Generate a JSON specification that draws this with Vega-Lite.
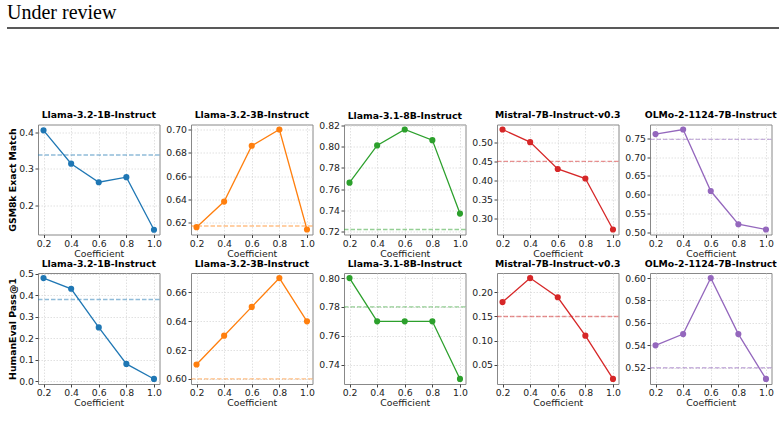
{
  "$schema": "https://vega.github.io/schema/vega-lite/v6.json",
  "padding": {"left": 6, "top": 3, "right": 5, "bottom": 0},
  "datasets": {
    "scores": [
      {"metric": "GSM8k", "model": "Llama-3.2-1B-Instruct", "coef": 0.2, "value": 0.406},
      {"metric": "GSM8k", "model": "Llama-3.2-1B-Instruct", "coef": 0.4, "value": 0.314},
      {"metric": "GSM8k", "model": "Llama-3.2-1B-Instruct", "coef": 0.6, "value": 0.263},
      {"metric": "GSM8k", "model": "Llama-3.2-1B-Instruct", "coef": 0.8, "value": 0.277},
      {"metric": "GSM8k", "model": "Llama-3.2-1B-Instruct", "coef": 1.0, "value": 0.132},
      {"metric": "GSM8k", "model": "Llama-3.2-3B-Instruct", "coef": 0.2, "value": 0.616},
      {"metric": "GSM8k", "model": "Llama-3.2-3B-Instruct", "coef": 0.4, "value": 0.638},
      {"metric": "GSM8k", "model": "Llama-3.2-3B-Instruct", "coef": 0.6, "value": 0.686},
      {"metric": "GSM8k", "model": "Llama-3.2-3B-Instruct", "coef": 0.8, "value": 0.700},
      {"metric": "GSM8k", "model": "Llama-3.2-3B-Instruct", "coef": 1.0, "value": 0.614},
      {"metric": "GSM8k", "model": "Llama-3.1-8B-Instruct", "coef": 0.2, "value": 0.766},
      {"metric": "GSM8k", "model": "Llama-3.1-8B-Instruct", "coef": 0.4, "value": 0.801},
      {"metric": "GSM8k", "model": "Llama-3.1-8B-Instruct", "coef": 0.6, "value": 0.816},
      {"metric": "GSM8k", "model": "Llama-3.1-8B-Instruct", "coef": 0.8, "value": 0.806},
      {"metric": "GSM8k", "model": "Llama-3.1-8B-Instruct", "coef": 1.0, "value": 0.737},
      {"metric": "GSM8k", "model": "Mistral-7B-Instruct-v0.3", "coef": 0.2, "value": 0.533},
      {"metric": "GSM8k", "model": "Mistral-7B-Instruct-v0.3", "coef": 0.4, "value": 0.500},
      {"metric": "GSM8k", "model": "Mistral-7B-Instruct-v0.3", "coef": 0.6, "value": 0.430},
      {"metric": "GSM8k", "model": "Mistral-7B-Instruct-v0.3", "coef": 0.8, "value": 0.405},
      {"metric": "GSM8k", "model": "Mistral-7B-Instruct-v0.3", "coef": 1.0, "value": 0.272},
      {"metric": "GSM8k", "model": "OLMo-2-1124-7B-Instruct", "coef": 0.2, "value": 0.761},
      {"metric": "GSM8k", "model": "OLMo-2-1124-7B-Instruct", "coef": 0.4, "value": 0.773},
      {"metric": "GSM8k", "model": "OLMo-2-1124-7B-Instruct", "coef": 0.6, "value": 0.610},
      {"metric": "GSM8k", "model": "OLMo-2-1124-7B-Instruct", "coef": 0.8, "value": 0.522},
      {"metric": "GSM8k", "model": "OLMo-2-1124-7B-Instruct", "coef": 1.0, "value": 0.508},
      {"metric": "HumanEval", "model": "Llama-3.2-1B-Instruct", "coef": 0.2, "value": 0.48},
      {"metric": "HumanEval", "model": "Llama-3.2-1B-Instruct", "coef": 0.4, "value": 0.43},
      {"metric": "HumanEval", "model": "Llama-3.2-1B-Instruct", "coef": 0.6, "value": 0.25},
      {"metric": "HumanEval", "model": "Llama-3.2-1B-Instruct", "coef": 0.8, "value": 0.08},
      {"metric": "HumanEval", "model": "Llama-3.2-1B-Instruct", "coef": 1.0, "value": 0.01},
      {"metric": "HumanEval", "model": "Llama-3.2-3B-Instruct", "coef": 0.2, "value": 0.61},
      {"metric": "HumanEval", "model": "Llama-3.2-3B-Instruct", "coef": 0.4, "value": 0.63},
      {"metric": "HumanEval", "model": "Llama-3.2-3B-Instruct", "coef": 0.6, "value": 0.65},
      {"metric": "HumanEval", "model": "Llama-3.2-3B-Instruct", "coef": 0.8, "value": 0.67},
      {"metric": "HumanEval", "model": "Llama-3.2-3B-Instruct", "coef": 1.0, "value": 0.64},
      {"metric": "HumanEval", "model": "Llama-3.1-8B-Instruct", "coef": 0.2, "value": 0.80},
      {"metric": "HumanEval", "model": "Llama-3.1-8B-Instruct", "coef": 0.4, "value": 0.77},
      {"metric": "HumanEval", "model": "Llama-3.1-8B-Instruct", "coef": 0.6, "value": 0.77},
      {"metric": "HumanEval", "model": "Llama-3.1-8B-Instruct", "coef": 0.8, "value": 0.77},
      {"metric": "HumanEval", "model": "Llama-3.1-8B-Instruct", "coef": 1.0, "value": 0.73},
      {"metric": "HumanEval", "model": "Mistral-7B-Instruct-v0.3", "coef": 0.2, "value": 0.18},
      {"metric": "HumanEval", "model": "Mistral-7B-Instruct-v0.3", "coef": 0.4, "value": 0.23},
      {"metric": "HumanEval", "model": "Mistral-7B-Instruct-v0.3", "coef": 0.6, "value": 0.19},
      {"metric": "HumanEval", "model": "Mistral-7B-Instruct-v0.3", "coef": 0.8, "value": 0.11},
      {"metric": "HumanEval", "model": "Mistral-7B-Instruct-v0.3", "coef": 1.0, "value": 0.02},
      {"metric": "HumanEval", "model": "OLMo-2-1124-7B-Instruct", "coef": 0.2, "value": 0.54},
      {"metric": "HumanEval", "model": "OLMo-2-1124-7B-Instruct", "coef": 0.4, "value": 0.55},
      {"metric": "HumanEval", "model": "OLMo-2-1124-7B-Instruct", "coef": 0.6, "value": 0.60},
      {"metric": "HumanEval", "model": "OLMo-2-1124-7B-Instruct", "coef": 0.8, "value": 0.55},
      {"metric": "HumanEval", "model": "OLMo-2-1124-7B-Instruct", "coef": 1.0, "value": 0.51}
    ],
    "baselines": [
      {"metric": "GSM8k", "model": "Llama-3.2-1B-Instruct", "baseline": 0.338},
      {"metric": "GSM8k", "model": "Llama-3.2-3B-Instruct", "baseline": 0.617},
      {"metric": "GSM8k", "model": "Llama-3.1-8B-Instruct", "baseline": 0.722},
      {"metric": "GSM8k", "model": "Mistral-7B-Instruct-v0.3", "baseline": 0.450},
      {"metric": "GSM8k", "model": "OLMo-2-1124-7B-Instruct", "baseline": 0.747},
      {"metric": "HumanEval", "model": "Llama-3.2-1B-Instruct", "baseline": 0.38},
      {"metric": "HumanEval", "model": "Llama-3.2-3B-Instruct", "baseline": 0.60},
      {"metric": "HumanEval", "model": "Llama-3.1-8B-Instruct", "baseline": 0.78},
      {"metric": "HumanEval", "model": "Mistral-7B-Instruct-v0.3", "baseline": 0.15},
      {"metric": "HumanEval", "model": "OLMo-2-1124-7B-Instruct", "baseline": 0.52}
    ]
  },
  "config": {
    "font": "DejaVu Sans",
    "view": {"stroke": "#888888", "strokeWidth": 1},
    "title": {"font": "DejaVu Sans", "fontSize": 9.3, "fontWeight": "bold", "color": "#000000", "offset": 4, "frame": "group"},
    "axis": {
      "labelFont": "DejaVu Sans", "labelFontSize": 9.3, "labelColor": "#222222",
      "titleFont": "DejaVu Sans", "titleFontSize": 9.3, "titleFontWeight": "normal", "titleColor": "#222222",
      "grid": true, "gridColor": "#d4d4d4", "gridDash": [1.5, 1.5], "gridWidth": 0.7,
      "domain": false, "tickColor": "#444444", "tickSize": 3, "labelPadding": 1.5,
      "labelFlush": false, "labelOverlap": false
    },
    "axisX": {"titlePadding": 1},
    "axisY": {"titleFontWeight": "bold", "titleColor": "#000000", "minExtent": 19, "maxExtent": 19, "titlePadding": 1.5}
  },
  "spacing": -0.5,
  "vconcat": [
    {
      "data": {"values": [{"x": 0}]},
      "width": 741,
      "height": 82.5,
      "view": {"stroke": null},
      "title": {"text": "Under review", "anchor": "start", "dx": -31, "font": "Liberation Serif", "fontSize": 20, "fontWeight": "normal", "color": "#000000", "offset": 4},
      "mark": {"type": "rule", "color": "#222222", "strokeWidth": 1.5},
      "encoding": {
        "x": {"datum": 0, "type": "quantitative", "scale": {"domain": [0, 1], "range": [-31, 741]}, "axis": null},
        "x2": {"datum": 1},
        "y": {"value": 0}
      }
    },
    {
      "spacing": 3,
      "hconcat": [
        {
          "title": "Llama-3.2-1B-Instruct", "width": 121.5, "height": 110,
          "layer": [
            {"data": {"name": "baselines"}, "transform": [{"filter": "datum.metric == 'GSM8k' && datum.model == 'Llama-3.2-1B-Instruct'"}],
              "mark": {"type": "rule", "color": "#1f77b4", "opacity": 0.5, "strokeDash": [4.5, 2], "strokeWidth": 1.3},
              "encoding": {"y": {"field": "baseline", "type": "quantitative"}}},
            {"data": {"name": "scores"}, "transform": [{"filter": "datum.metric == 'GSM8k' && datum.model == 'Llama-3.2-1B-Instruct'"}],
              "mark": {"type": "line", "color": "#1f77b4", "strokeWidth": 1.3, "point": {"filled": true, "size": 38, "color": "#1f77b4", "opacity": 1}},
              "encoding": {
                "x": {"field": "coef", "type": "quantitative", "scale": {"domain": [0.16, 1.04], "nice": false, "zero": false}, "axis": {"title": "Coefficient", "values": [0.2, 0.4, 0.6, 0.8, 1.0], "tickCount": 12, "format": ".1f"}},
                "y": {"field": "value", "type": "quantitative", "scale": {"domain": [0.119, 0.422], "nice": false, "zero": false}, "axis": {"title": "GSM8k Exact Match", "values": [0.2, 0.3, 0.4], "tickCount": 12, "format": ".1f"}}
              }}
          ]
        },
        {
          "title": "Llama-3.2-3B-Instruct", "width": 121.5, "height": 110,
          "layer": [
            {"data": {"name": "baselines"}, "transform": [{"filter": "datum.metric == 'GSM8k' && datum.model == 'Llama-3.2-3B-Instruct'"}],
              "mark": {"type": "rule", "color": "#ff7f0e", "opacity": 0.5, "strokeDash": [4.5, 2], "strokeWidth": 1.3},
              "encoding": {"y": {"field": "baseline", "type": "quantitative"}}},
            {"data": {"name": "scores"}, "transform": [{"filter": "datum.metric == 'GSM8k' && datum.model == 'Llama-3.2-3B-Instruct'"}],
              "mark": {"type": "line", "color": "#ff7f0e", "strokeWidth": 1.3, "point": {"filled": true, "size": 38, "color": "#ff7f0e", "opacity": 1}},
              "encoding": {
                "x": {"field": "coef", "type": "quantitative", "scale": {"domain": [0.16, 1.04], "nice": false, "zero": false}, "axis": {"title": "Coefficient", "values": [0.2, 0.4, 0.6, 0.8, 1.0], "tickCount": 12, "format": ".1f"}},
                "y": {"field": "value", "type": "quantitative", "scale": {"domain": [0.6097, 0.7043], "nice": false, "zero": false}, "axis": {"title": null, "values": [0.62, 0.64, 0.66, 0.68, 0.70], "tickCount": 12, "format": ".2f"}}
              }}
          ]
        },
        {
          "title": {"text": "Llama-3.1-8B-Instruct", "dy": 4}, "width": 121.5, "height": 110,
          "layer": [
            {"data": {"name": "baselines"}, "transform": [{"filter": "datum.metric == 'GSM8k' && datum.model == 'Llama-3.1-8B-Instruct'"}],
              "mark": {"type": "rule", "color": "#2ca02c", "opacity": 0.5, "strokeDash": [4.5, 2], "strokeWidth": 1.3},
              "encoding": {"y": {"field": "baseline", "type": "quantitative"}}},
            {"data": {"name": "scores"}, "transform": [{"filter": "datum.metric == 'GSM8k' && datum.model == 'Llama-3.1-8B-Instruct'"}],
              "mark": {"type": "line", "color": "#2ca02c", "strokeWidth": 1.3, "point": {"filled": true, "size": 38, "color": "#2ca02c", "opacity": 1}},
              "encoding": {
                "x": {"field": "coef", "type": "quantitative", "scale": {"domain": [0.16, 1.04], "nice": false, "zero": false}, "axis": {"title": "Coefficient", "values": [0.2, 0.4, 0.6, 0.8, 1.0], "tickCount": 12, "format": ".1f"}},
                "y": {"field": "value", "type": "quantitative", "scale": {"domain": [0.7173, 0.8207], "nice": false, "zero": false}, "axis": {"title": null, "values": [0.72, 0.74, 0.76, 0.78, 0.80, 0.82], "tickCount": 12, "format": ".2f"}}
              }}
          ]
        },
        {
          "title": "Mistral-7B-Instruct-v0.3", "width": 121.5, "height": 110,
          "layer": [
            {"data": {"name": "baselines"}, "transform": [{"filter": "datum.metric == 'GSM8k' && datum.model == 'Mistral-7B-Instruct-v0.3'"}],
              "mark": {"type": "rule", "color": "#d62728", "opacity": 0.5, "strokeDash": [4.5, 2], "strokeWidth": 1.3},
              "encoding": {"y": {"field": "baseline", "type": "quantitative"}}},
            {"data": {"name": "scores"}, "transform": [{"filter": "datum.metric == 'GSM8k' && datum.model == 'Mistral-7B-Instruct-v0.3'"}],
              "mark": {"type": "line", "color": "#d62728", "strokeWidth": 1.3, "point": {"filled": true, "size": 38, "color": "#d62728", "opacity": 1}},
              "encoding": {
                "x": {"field": "coef", "type": "quantitative", "scale": {"domain": [0.16, 1.04], "nice": false, "zero": false}, "axis": {"title": "Coefficient", "values": [0.2, 0.4, 0.6, 0.8, 1.0], "tickCount": 12, "format": ".1f"}},
                "y": {"field": "value", "type": "quantitative", "scale": {"domain": [0.259, 0.546], "nice": false, "zero": false}, "axis": {"title": null, "values": [0.30, 0.35, 0.40, 0.45, 0.50], "tickCount": 12, "format": ".2f"}}
              }}
          ]
        },
        {
          "title": "OLMo-2-1124-7B-Instruct", "width": 121.5, "height": 110,
          "layer": [
            {"data": {"name": "baselines"}, "transform": [{"filter": "datum.metric == 'GSM8k' && datum.model == 'OLMo-2-1124-7B-Instruct'"}],
              "mark": {"type": "rule", "color": "#9467bd", "opacity": 0.5, "strokeDash": [4.5, 2], "strokeWidth": 1.3},
              "encoding": {"y": {"field": "baseline", "type": "quantitative"}}},
            {"data": {"name": "scores"}, "transform": [{"filter": "datum.metric == 'GSM8k' && datum.model == 'OLMo-2-1124-7B-Instruct'"}],
              "mark": {"type": "line", "color": "#9467bd", "strokeWidth": 1.3, "point": {"filled": true, "size": 38, "color": "#9467bd", "opacity": 1}},
              "encoding": {
                "x": {"field": "coef", "type": "quantitative", "scale": {"domain": [0.16, 1.04], "nice": false, "zero": false}, "axis": {"title": "Coefficient", "values": [0.2, 0.4, 0.6, 0.8, 1.0], "tickCount": 12, "format": ".1f"}},
                "y": {"field": "value", "type": "quantitative", "scale": {"domain": [0.4948, 0.7863], "nice": false, "zero": false}, "axis": {"title": null, "values": [0.50, 0.55, 0.60, 0.65, 0.70, 0.75], "tickCount": 12, "format": ".2f"}}
              }}
          ]
        }
      ]
    },
    {
      "spacing": 3,
      "hconcat": [
        {
          "title": {"text": "Llama-3.2-1B-Instruct", "dy": 4}, "width": 121.5, "height": 111,
          "layer": [
            {"data": {"name": "baselines"}, "transform": [{"filter": "datum.metric == 'HumanEval' && datum.model == 'Llama-3.2-1B-Instruct'"}],
              "mark": {"type": "rule", "color": "#1f77b4", "opacity": 0.5, "strokeDash": [4.5, 2], "strokeWidth": 1.3},
              "encoding": {"y": {"field": "baseline", "type": "quantitative"}}},
            {"data": {"name": "scores"}, "transform": [{"filter": "datum.metric == 'HumanEval' && datum.model == 'Llama-3.2-1B-Instruct'"}],
              "mark": {"type": "line", "color": "#1f77b4", "strokeWidth": 1.3, "point": {"filled": true, "size": 38, "color": "#1f77b4", "opacity": 1}},
              "encoding": {
                "x": {"field": "coef", "type": "quantitative", "scale": {"domain": [0.16, 1.04], "nice": false, "zero": false}, "axis": {"title": "Coefficient", "values": [0.2, 0.4, 0.6, 0.8, 1.0], "tickCount": 12, "format": ".1f"}},
                "y": {"field": "value", "type": "quantitative", "scale": {"domain": [-0.0135, 0.5035], "nice": false, "zero": false}, "axis": {"title": "HumanEval Pass@1", "values": [0.0, 0.1, 0.2, 0.3, 0.4, 0.5], "tickCount": 12, "format": ".1f"}}
              }}
          ]
        },
        {
          "title": "Llama-3.2-3B-Instruct", "width": 121.5, "height": 111,
          "layer": [
            {"data": {"name": "baselines"}, "transform": [{"filter": "datum.metric == 'HumanEval' && datum.model == 'Llama-3.2-3B-Instruct'"}],
              "mark": {"type": "rule", "color": "#ff7f0e", "opacity": 0.5, "strokeDash": [4.5, 2], "strokeWidth": 1.3},
              "encoding": {"y": {"field": "baseline", "type": "quantitative"}}},
            {"data": {"name": "scores"}, "transform": [{"filter": "datum.metric == 'HumanEval' && datum.model == 'Llama-3.2-3B-Instruct'"}],
              "mark": {"type": "line", "color": "#ff7f0e", "strokeWidth": 1.3, "point": {"filled": true, "size": 38, "color": "#ff7f0e", "opacity": 1}},
              "encoding": {
                "x": {"field": "coef", "type": "quantitative", "scale": {"domain": [0.16, 1.04], "nice": false, "zero": false}, "axis": {"title": "Coefficient", "values": [0.2, 0.4, 0.6, 0.8, 1.0], "tickCount": 12, "format": ".1f"}},
                "y": {"field": "value", "type": "quantitative", "scale": {"domain": [0.5965, 0.6735], "nice": false, "zero": false}, "axis": {"title": null, "values": [0.60, 0.62, 0.64, 0.66], "tickCount": 12, "format": ".2f"}}
              }}
          ]
        },
        {
          "title": "Llama-3.1-8B-Instruct", "width": 121.5, "height": 111,
          "layer": [
            {"data": {"name": "baselines"}, "transform": [{"filter": "datum.metric == 'HumanEval' && datum.model == 'Llama-3.1-8B-Instruct'"}],
              "mark": {"type": "rule", "color": "#2ca02c", "opacity": 0.5, "strokeDash": [4.5, 2], "strokeWidth": 1.3},
              "encoding": {"y": {"field": "baseline", "type": "quantitative"}}},
            {"data": {"name": "scores"}, "transform": [{"filter": "datum.metric == 'HumanEval' && datum.model == 'Llama-3.1-8B-Instruct'"}],
              "mark": {"type": "line", "color": "#2ca02c", "strokeWidth": 1.3, "point": {"filled": true, "size": 38, "color": "#2ca02c", "opacity": 1}},
              "encoding": {
                "x": {"field": "coef", "type": "quantitative", "scale": {"domain": [0.16, 1.04], "nice": false, "zero": false}, "axis": {"title": "Coefficient", "values": [0.2, 0.4, 0.6, 0.8, 1.0], "tickCount": 12, "format": ".1f"}},
                "y": {"field": "value", "type": "quantitative", "scale": {"domain": [0.7265, 0.8035], "nice": false, "zero": false}, "axis": {"title": null, "values": [0.74, 0.76, 0.78, 0.80], "tickCount": 12, "format": ".2f"}}
              }}
          ]
        },
        {
          "title": "Mistral-7B-Instruct-v0.3", "width": 121.5, "height": 111,
          "layer": [
            {"data": {"name": "baselines"}, "transform": [{"filter": "datum.metric == 'HumanEval' && datum.model == 'Mistral-7B-Instruct-v0.3'"}],
              "mark": {"type": "rule", "color": "#d62728", "opacity": 0.5, "strokeDash": [4.5, 2], "strokeWidth": 1.3},
              "encoding": {"y": {"field": "baseline", "type": "quantitative"}}},
            {"data": {"name": "scores"}, "transform": [{"filter": "datum.metric == 'HumanEval' && datum.model == 'Mistral-7B-Instruct-v0.3'"}],
              "mark": {"type": "line", "color": "#d62728", "strokeWidth": 1.3, "point": {"filled": true, "size": 38, "color": "#d62728", "opacity": 1}},
              "encoding": {
                "x": {"field": "coef", "type": "quantitative", "scale": {"domain": [0.16, 1.04], "nice": false, "zero": false}, "axis": {"title": "Coefficient", "values": [0.2, 0.4, 0.6, 0.8, 1.0], "tickCount": 12, "format": ".1f"}},
                "y": {"field": "value", "type": "quantitative", "scale": {"domain": [0.0095, 0.2405], "nice": false, "zero": false}, "axis": {"title": null, "values": [0.05, 0.10, 0.15, 0.20], "tickCount": 12, "format": ".2f"}}
              }}
          ]
        },
        {
          "title": "OLMo-2-1124-7B-Instruct", "width": 121.5, "height": 111,
          "layer": [
            {"data": {"name": "baselines"}, "transform": [{"filter": "datum.metric == 'HumanEval' && datum.model == 'OLMo-2-1124-7B-Instruct'"}],
              "mark": {"type": "rule", "color": "#9467bd", "opacity": 0.5, "strokeDash": [4.5, 2], "strokeWidth": 1.3},
              "encoding": {"y": {"field": "baseline", "type": "quantitative"}}},
            {"data": {"name": "scores"}, "transform": [{"filter": "datum.metric == 'HumanEval' && datum.model == 'OLMo-2-1124-7B-Instruct'"}],
              "mark": {"type": "line", "color": "#9467bd", "strokeWidth": 1.3, "point": {"filled": true, "size": 38, "color": "#9467bd", "opacity": 1}},
              "encoding": {
                "x": {"field": "coef", "type": "quantitative", "scale": {"domain": [0.16, 1.04], "nice": false, "zero": false}, "axis": {"title": "Coefficient", "values": [0.2, 0.4, 0.6, 0.8, 1.0], "tickCount": 12, "format": ".1f"}},
                "y": {"field": "value", "type": "quantitative", "scale": {"domain": [0.5055, 0.6045], "nice": false, "zero": false}, "axis": {"title": null, "values": [0.52, 0.54, 0.56, 0.58, 0.60], "tickCount": 12, "format": ".2f"}}
              }}
          ]
        }
      ]
    }
  ]
}
